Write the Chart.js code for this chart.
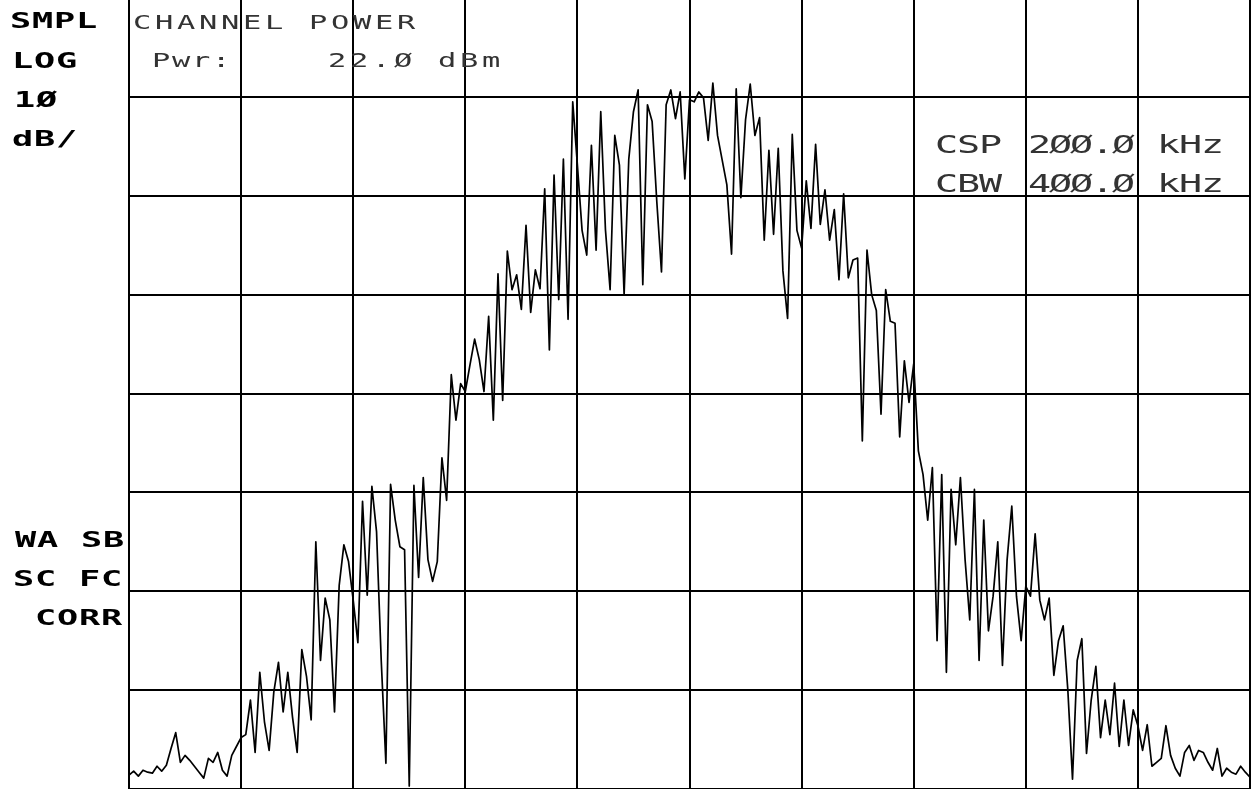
<!DOCTYPE html>
<html>
<head>
<meta charset="utf-8">
<script src="https://cdn.jsdelivr.net/npm/chart.js@4.4.0/dist/chart.umd.min.js"></script>
<style>
  html, body { margin: 0; padding: 0; background: #fff; }
  body { width: 1254px; height: 789px; position: relative; overflow: hidden; }
  #plot { position: absolute; left: 0; top: -2px; }
  .lbl { position: absolute; white-space: pre; line-height: 1; font-family: "DejaVu Sans Mono", monospace; transform-origin: 0 50%; }
  .side { font-weight: bold; color: #000; }
  .screen { font-weight: normal; color: #333; }
</style>
</head>
<body>
<canvas id="plot" width="1254" height="793"></canvas>
<script>
// display settings
const refLevel = 30;      // dBm, top of graticule
const dbPerDiv = 10;
const vertDivs = 8;
const horzDivs = 10;

// annotations
const sideLabels = ["SMPL", "LOG", "1Ø", "dB/", "WA SB", "SC FC", "CORR"];
const screenLabels = ["CHANNEL POWER", "Pwr:", "22.Ø dBm"];
const bwLabels = ["CSP", "2ØØ.Ø", "kHz", "CBW", "4ØØ.Ø", "kHz"];

// trace, dBm, 241 points across the sweep (24 per division)
const traceDbm = [
  -48.6, -48.2, -48.7, -48.1, -48.3, -48.4, -47.7, -48.2, -47.6, -45.9, -44.3, -47.3, -46.6, -47.1, -47.7, -48.3, -48.9, -46.9, -47.3, -46.3, -48.1, -48.7, -46.6, -45.7, -44.8,
  -44.5, -41.0, -46.3, -38.2, -43.2, -46.1, -40.2, -37.2, -42.2, -38.2, -42.7, -46.3, -35.9, -38.6, -43.0, -25.0, -37.0, -30.7, -32.9, -42.2, -29.4, -25.3, -27.0, -30.9,
  -35.2, -20.9, -30.4, -19.4, -24.0, -37.0, -47.4, -19.2, -22.8, -25.5, -25.8, -49.7, -19.3, -28.6, -18.5, -26.8, -29.0, -27.0, -16.5, -20.8, -8.1, -12.7, -9.0, -9.8,
  -7.1, -4.5, -6.6, -9.8, -2.2, -12.7, 2.1, -10.7, 4.4, 0.5, 2.0, -1.5, 7.0, -1.8, 2.5, 0.6, 10.7, -5.6, 12.1, -0.5, 13.7, -2.5, 19.5, 13.1,
  6.5, 4.0, 15.1, 4.5, 18.5, 6.6, 0.5, 16.1, 13.1, 0.0, 13.7, 18.5, 20.7, 1.0, 19.2, 17.5, 9.4, 2.3, 19.2, 20.7, 17.8, 20.5, 11.7, 19.7,
  19.5, 20.5, 19.9, 15.6, 21.4, 16.1, 13.6, 11.1, 4.1, 20.8, 9.8, 17.7, 21.3, 16.1, 17.9, 5.5, 14.6, 6.1, 14.8, 2.4, -2.4, 16.2, 6.5, 4.7,
  11.5, 6.7, 15.2, 7.1, 10.6, 5.5, 8.6, 1.5, 10.2, 1.7, 3.5, 3.7, -14.8, 4.5, 0.0, -1.6, -12.1, 0.5, -2.7, -2.9, -14.4, -6.7, -10.9, -7.0,
  -15.8, -18.2, -22.8, -17.5, -35.0, -18.2, -38.2, -19.7, -25.3, -18.5, -26.8, -32.9, -19.7, -37.0, -22.8, -34.0, -30.5, -25.0, -37.5, -26.8, -21.4, -30.5, -35.0, -29.5,
  -30.5, -24.2, -30.9, -32.9, -30.7, -38.5, -35.0, -33.5, -40.0, -49.0, -37.0, -34.8, -46.4, -41.0, -37.6, -44.8, -41.0, -44.5, -39.3, -45.7, -41.0, -45.6, -42.0, -43.6,
  -46.1, -43.5, -47.7, -47.3, -46.9, -43.6, -46.6, -47.9, -48.7, -46.3, -45.6, -47.1, -46.1, -46.3, -47.3, -48.1, -45.9, -48.7, -47.9, -48.3, -48.5, -47.7, -48.3, -48.8
];

// text placement: [left, centre y, pitch]
const sidePos = [[10, 21], [12, 61], [14, 100], [12, 139], [15, 540], [13, 579], [35, 618]];
const screenPos = [[133, 22, 22], [152, 60, 20], [328, 60, 22]];
const bwPos = [[935, 145, 22], [1028, 145, 21], [1157, 145, 22], [935, 184, 22], [1028, 184, 21], [1157, 184, 22]];

function addLabel(text, left, cy, size, stretch, pitch, cls) {
  const el = document.createElement("div");
  el.className = "lbl " + cls;
  el.textContent = text;
  el.style.fontSize = size + "px";
  el.style.left = left + "px";
  el.style.top = (cy - 0.48 * size) + "px";
  el.style.letterSpacing = (pitch / stretch - 0.602 * size) + "px";
  el.style.transform = "scaleX(" + stretch + ")";
  document.body.appendChild(el);
}

sideLabels.forEach((t, i) => addLabel(t, sidePos[i][0], sidePos[i][1], 22, 1.6, 22, "side"));
screenLabels.forEach((t, i) => addLabel(t, screenPos[i][0], screenPos[i][1], 19, 1.6, screenPos[i][2], "screen"));
bwLabels.forEach((t, i) => addLabel(t, bwPos[i][0], bwPos[i][1], 24, 1.6, bwPos[i][2], "screen"));

const points = traceDbm.map((v, i) => ({ x: i, y: v }));
const lastPt = traceDbm.length - 1;

const gridOpts = { color: "#000", lineWidth: 2, drawTicks: false };

new Chart(document.getElementById("plot").getContext("2d"), {
  type: "line",
  data: {
    datasets: [{
      data: points,
      borderColor: "#000",
      borderWidth: 1.7,
      borderJoinStyle: "round",
      pointRadius: 0,
      tension: 0,
      fill: false
    }]
  },
  options: {
    responsive: false,
    animation: false,
    devicePixelRatio: 1,
    layout: { padding: { left: 129, right: 4, top: 0, bottom: 2 } },
    plugins: { legend: { display: false }, tooltip: { enabled: false } },
    scales: {
      x: {
        type: "linear",
        min: 0,
        max: lastPt,
        ticks: { display: false, stepSize: lastPt / horzDivs },
        grid: gridOpts,
        border: { display: true, color: "#000", width: 2 }
      },
      y: {
        min: refLevel - dbPerDiv * vertDivs,
        max: refLevel,
        ticks: { display: false, stepSize: dbPerDiv },
        grid: gridOpts,
        border: { display: true, color: "#000", width: 2 }
      }
    }
  }
});
</script>
</body>
</html>
